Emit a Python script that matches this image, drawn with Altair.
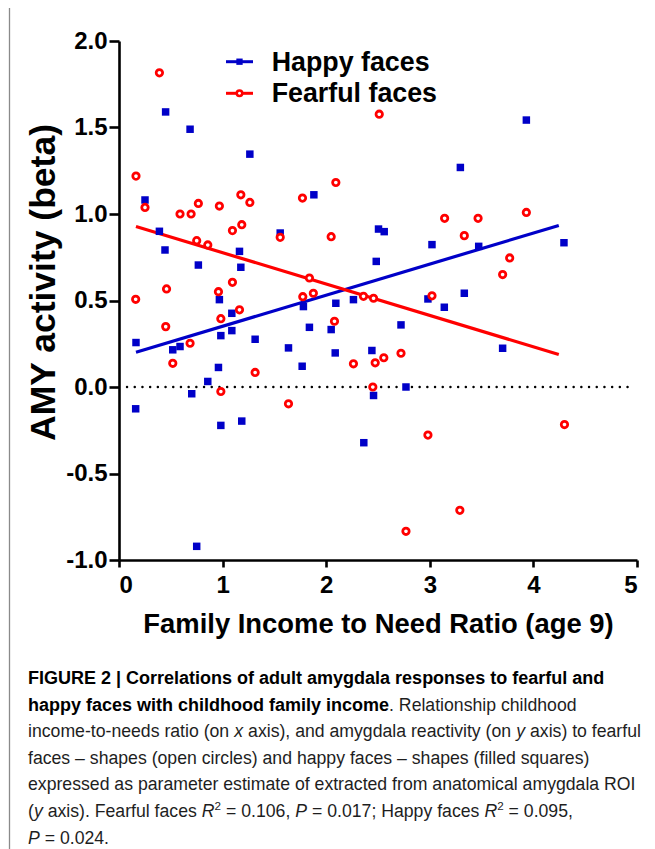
import glob
import struct

import altair as alt
import pandas as pd

# ---------------- data ----------------
happy_x = [0.45, 0.686, 1.263, 0.251, 1.881, 0.39, 1.556, 2.505, 2.56, 3.932,
           3.295, 0.444, 0.766, 1.163, 1.176, 0.969, 1.089, 0.983, 1.089, 0.164,
           0.519, 0.589, 1.314, 0.96, 0.857, 0.702, 0.161, 1.185, 0.983, 1.636,
           1.768, 1.78, 1.838, 2.048, 2.093, 2.087, 2.263, 2.441, 2.457, 2.483,
           3.021, 3.472, 4.295, 2.982, 3.14, 3.333, 2.722, 3.703, 2.77, 2.363,
           0.75]
happy_y = [1.59, 1.49, 1.346, 1.081, 1.111, 0.90, 0.89, 0.913, 0.898, 1.543,
           1.269, 0.792, 0.705, 0.784, 0.692, 0.505, 0.426, 0.297, 0.326, 0.257,
           0.215, 0.234, 0.276, 0.113, 0.032, -0.039, -0.126, -0.197, -0.222, 0.226,
           0.12, 0.465, 0.345, 0.332, 0.484, 0.197, 0.505, 0.211, -0.049, 0.726,
           0.823, 0.813, 0.834, 0.509, 0.461, 0.542, 0.359, 0.224, 0.0, -0.322,
           -0.921]

fearful_x = [0.39, 0.164, 0.251, 0.589, 0.696, 0.766, 0.969, 1.176, 1.263, 1.771,
             2.093, 1.095, 1.185, 2.512, 3.143, 3.466, 3.932, 0.75, 0.857, 1.556,
             2.048, 1.095, 0.96, 0.459, 0.161, 1.163, 0.983, 0.451, 0.686, 0.519,
             1.314, 0.983, 1.636, 1.774, 1.876, 1.838, 2.08, 2.263, 2.36, 2.457,
             2.473, 2.45, 3.333, 3.771, 3.703, 3.021, 2.722, 2.556, 2.982, 4.30,
             3.29, 2.77]
fearful_y = [1.816, 1.219, 1.038, 1.0, 1.0, 1.061, 1.046, 1.111, 1.067, 1.092,
             1.182, 0.904, 0.938, 1.577, 0.975, 0.975, 1.009, 0.846, 0.821, 0.865,
             0.869, 0.605, 0.551, 0.567, 0.507, 0.446, 0.395, 0.349, 0.253, 0.137,
             0.084, -0.026, -0.097, 0.522, 0.542, 0.63, 0.38, 0.134, 0.524, 0.513,
             0.14, 0.0, 0.875, 0.746, 0.65, 0.527, 0.195, 0.169, -0.278, -0.217,
             -0.713, -0.834]

# fitted lines as drawn in the reference (start / end)
fit_x = [0.164, 4.245]
happy_fit_y = [0.201, 0.934]
fearful_fit_y = [0.928, 0.188]

series_names = ["Happy faces", "Fearful faces"]
x_ticks = [0, 1, 2, 3, 4, 5]
y_ticks = [-1.0, -0.5, 0.0, 0.5, 1.0, 1.5, 2.0]
x_title = "Family Income to Need Ratio (age 9)"
y_title = "AMY activity (beta)"

caption_lines = [
    [("FIGURE 2 | Correlations of adult amygdala responses to fearful and", "b")],
    [("happy faces with childhood family income", "b"), (". Relationship childhood", "r")],
    [("income-to-needs ratio (on ", "r"), ("x", "i"), (" axis), and amygdala reactivity (on ", "r"),
     ("y", "i"), (" axis) to fearful", "r")],
    [("faces \u2013 shapes (open circles) and happy faces \u2013 shapes (filled squares)", "r")],
    [("expressed as parameter estimate of extracted from anatomical amygdala ROI", "r")],
    [("(", "r"), ("y", "i"), (" axis). Fearful faces ", "r"), ("R", "i"), ("2", "s"),
     (" = 0.106, ", "r"), ("P", "i"), (" = 0.017; Happy faces ", "r"), ("R", "i"), ("2", "s"),
     (" = 0.095,", "r")],
    [("P", "i"), (" = 0.024.", "r")],
]

# ---------------- styling ----------------
BLUE = "#0000c8"
RED = "#ff0000"
FONT = "Liberation Sans"
W, H = 518, 519          # plot area
PAD_L, PAD_T = 111, 33   # plot origin inside the svg


# ---------------- font metrics (for placing mixed-style caption runs) ----------------
class Metrics:
    def __init__(self, pattern):
        self.ok = False
        try:
            hits = glob.glob("/usr/share/fonts/**/" + pattern, recursive=True)
            hits += glob.glob("/usr/local/share/fonts/**/" + pattern, recursive=True)
            d = open(hits[0], "rb").read()
            n = struct.unpack(">H", d[4:6])[0]
            t = {}
            for i in range(n):
                tag, _, off, _ = struct.unpack(">4sIII", d[12 + 16 * i:28 + 16 * i])
                t[tag] = off
            self.upem = struct.unpack(">H", d[t[b"head"] + 18:t[b"head"] + 20])[0]
            nhm = struct.unpack(">H", d[t[b"hhea"] + 34:t[b"hhea"] + 36])[0]
            hm = t[b"hmtx"]
            self.adv = struct.unpack(">%dH" % (2 * nhm), d[hm:hm + 4 * nhm])[0::2]
            c = t[b"cmap"]
            nsub = struct.unpack(">H", d[c + 2:c + 4])[0]
            self.cmap = {}
            for i in range(nsub):
                pid, eid, off = struct.unpack(">HHI", d[c + 4 + 8 * i:c + 12 + 8 * i])
                s = c + off
                fmt = struct.unpack(">H", d[s:s + 2])[0]
                if pid == 3 and eid == 1 and fmt == 4:
                    sx2 = struct.unpack(">H", d[s + 6:s + 8])[0]
                    sg = sx2 // 2
                    ends = struct.unpack(">%dH" % sg, d[s + 14:s + 14 + sx2])
                    starts = struct.unpack(">%dH" % sg, d[s + 16 + sx2:s + 16 + 2 * sx2])
                    deltas = struct.unpack(">%dh" % sg, d[s + 16 + 2 * sx2:s + 16 + 3 * sx2])
                    ro = s + 16 + 3 * sx2
                    ros = struct.unpack(">%dH" % sg, d[ro:ro + sx2])
                    for k in range(sg):
                        for ch in range(starts[k], min(ends[k], 0x2FFF) + 1):
                            if ros[k] == 0:
                                g = (ch + deltas[k]) & 0xFFFF
                            else:
                                a = ro + 2 * k + ros[k] + 2 * (ch - starts[k])
                                g = struct.unpack(">H", d[a:a + 2])[0]
                                if g:
                                    g = (g + deltas[k]) & 0xFFFF
                            self.cmap[ch] = g
                    break
            self.ok = True
        except Exception:
            self.ok = False

    def width(self, s, size):
        if not self.ok:
            return len(s) * 0.5 * size
        w = 0
        for ch in s:
            g = self.cmap.get(ord(ch), 0)
            w += self.adv[g] if g < len(self.adv) else self.adv[-1]
        return w * size / self.upem


m_reg = Metrics("LiberationSans-Regular.ttf")
m_bold = Metrics("LiberationSans-Bold.ttf")

# ---------------- data frames ----------------
happy = pd.DataFrame({"x": happy_x, "y": happy_y, "series": series_names[0]})
fearful = pd.DataFrame({"x": fearful_x, "y": fearful_y, "series": series_names[1]})
happy_fit = pd.DataFrame({"x": fit_x, "y": happy_fit_y})
fearful_fit = pd.DataFrame({"x": fit_x, "y": fearful_fit_y})
zero = pd.DataFrame({"y": [0.0]})

xs = alt.Scale(domain=[0, 5], nice=False, zero=False)
ys = alt.Scale(domain=[-1, 2], nice=False, zero=False)

x_axis = alt.Axis(
    values=x_ticks, format="d", grid=False,
    labelFont=FONT, labelFontSize=24, labelFontWeight="bold", labelColor="black", labelPadding=6,
    tickSize=7, tickWidth=2.6, tickColor="black", domainColor="black", domainWidth=2.6,
    titleFont=FONT, titleFontSize=27.4, titleFontWeight="bold", titleColor="black",
    titleBaseline="alphabetic", titleAlign="center", titleX=W / 2, titleY=72,
)
y_axis = alt.Axis(
    values=y_ticks, grid=False,
    labelExpr="replace(format(datum.value, '.1f'), '\u2212', '-')",
    labelFont=FONT, labelFontSize=24, labelFontWeight="bold", labelColor="black", labelPadding=2,
    tickSize=10, tickWidth=2.6, tickColor="black", domainColor="black", domainWidth=2.6,
    titleFont=FONT, titleFontSize=35.5, titleFontWeight="bold", titleColor="black",
    titleAngle=270, titleAlign="center", titleBaseline="middle", titleX=-76, titleY=241,
)

X = alt.X("x:Q", scale=xs, axis=x_axis, title=x_title)
Y = alt.Y("y:Q", scale=ys, axis=y_axis, title=y_title)

zero_line = alt.Chart(zero).mark_rule(
    color="black", strokeWidth=2.4, strokeDash=[0.1, 7.6], strokeCap="round"
).encode(x=alt.value(8), x2=alt.value(W - 3), y=Y)

happy_line = alt.Chart(happy_fit).mark_line(color=BLUE, strokeWidth=3.2).encode(x=X, y=Y)
fearful_line = alt.Chart(fearful_fit).mark_line(color=RED, strokeWidth=3.2).encode(x=X, y=Y)

happy_pts = alt.Chart(happy).mark_square(size=56, color=BLUE, opacity=1).encode(x=X, y=Y)
fearful_pts = alt.Chart(fearful).mark_point(
    shape="circle", size=41, filled=True, fill="white", stroke=RED, strokeWidth=2.8, opacity=1
).encode(x=X, y=Y)

layers = [zero_line, happy_line, fearful_line, happy_pts, fearful_pts]

# ---------------- legend (drawn inside the plot, top) ----------------
leg_colors = [BLUE, RED]
leg_rows_y = [20.7, 52.3]
for i, name in enumerate(series_names):
    d = pd.DataFrame({"t": [name]})
    yy = leg_rows_y[i]
    layers.append(alt.Chart(d).mark_rule(color=leg_colors[i], strokeWidth=3).encode(
        x=alt.value(107), x2=alt.value(134), y=alt.value(yy)))
    if i == 0:
        layers.append(alt.Chart(d).mark_square(size=40, color=BLUE, opacity=1).encode(
            x=alt.value(120.5), y=alt.value(yy)))
    else:
        layers.append(alt.Chart(d).mark_point(
            shape="circle", size=30, filled=True, fill="white", stroke=RED, strokeWidth=2.5,
            opacity=1).encode(x=alt.value(120.5), y=alt.value(yy)))
    layers.append(alt.Chart(d).mark_text(
        align="left", baseline="middle", font=FONT, fontSize=26.8, fontWeight="bold",
        color="black").encode(x=alt.value(152.7), y=alt.value(yy + 1), text="t:N"))

# ---------------- figure frame line on the left ----------------
layers.append(alt.Chart(zero).mark_rule(color="#8a8a8a", strokeWidth=1.3).encode(
    x=alt.value(-109.5), y=alt.value(-PAD_T), y2=alt.value(H + 300)))

# ---------------- caption ----------------
BOLD_SIZE = 18.0
# regular text size chosen so that the third caption line spans ~613 px as in the reference
_w1 = sum((m_bold if st == "b" else m_reg).width(t, 1.0) for t, st in caption_lines[2])
REG_SIZE = min(18.0, 613.0 / _w1) if _w1 > 0 else 16.5
cap_x0 = 28 - 119
cap_base0 = 684 - 41
cap_step = 26.6
for i, line in enumerate(caption_lines):
    x = cap_x0
    y = cap_base0 + i * cap_step
    for txt, st in line:
        if st == "b":
            size, m = BOLD_SIZE, m_bold
        elif st == "s":
            size, m = REG_SIZE * 0.66, m_reg
        else:
            size, m = REG_SIZE, m_reg
        lead = txt[:len(txt) - len(txt.lstrip())]
        xx = x + m.width(lead, size)
        yy = y - 7 if st == "s" else y
        d = pd.DataFrame({"t": [txt.strip()]})
        layers.append(alt.Chart(d).mark_text(
            align="left", baseline="alphabetic", font=FONT, fontSize=size,
            fontWeight="bold" if st == "b" else "normal",
            fontStyle="italic" if st == "i" else "normal",
            color="black" if st == "b" else "#1e1e1e",
        ).encode(x=alt.value(xx), y=alt.value(yy), text="t:N"))
        x += m.width(txt, size)

chart = alt.layer(*layers).properties(
    width=W, height=H,
    autosize=alt.AutoSizeParams(type="none"),
    padding={"left": PAD_L, "top": PAD_T, "right": 10, "bottom": 289},
    background="white",
).configure_view(stroke=None)

chart.save("out.html", embed_options={"renderer": "svg", "actions": False})
